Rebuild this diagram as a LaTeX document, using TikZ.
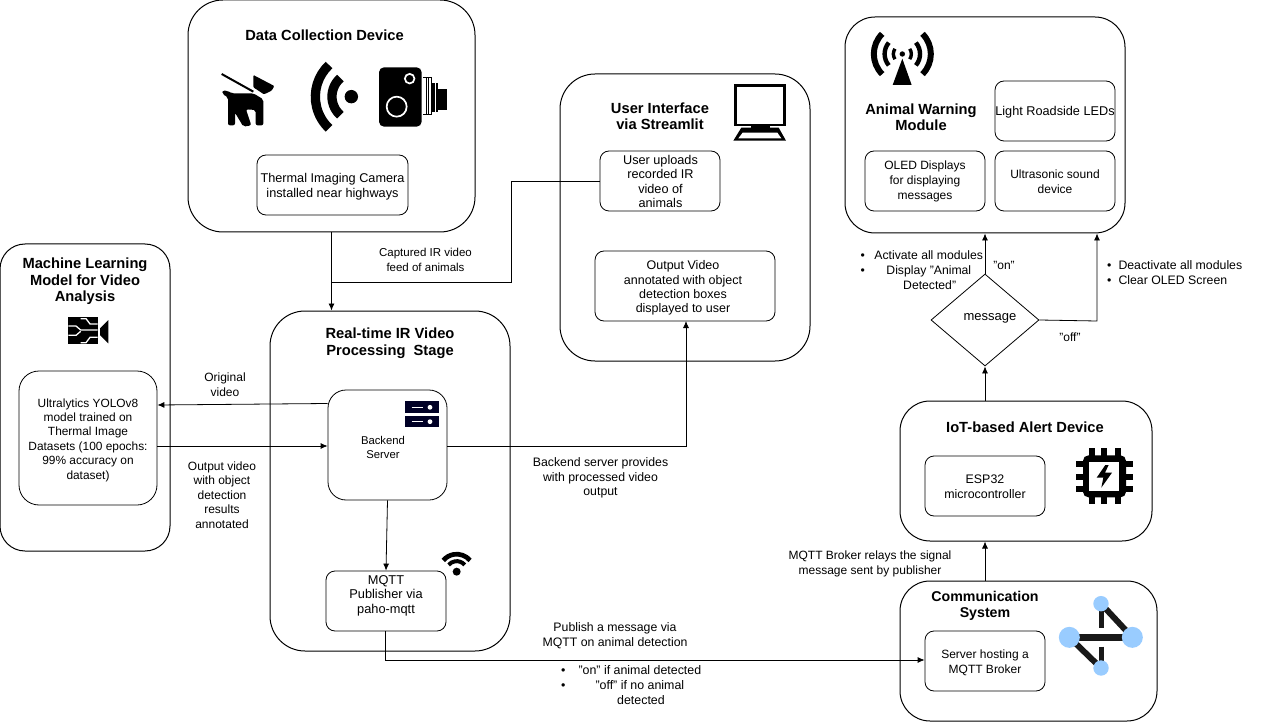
\documentclass[tikz,border=0pt]{standalone}
\usepackage{fontspec}
\setmainfont{Liberation Sans}
\usetikzlibrary{arrows.meta,shapes.geometric,calc}
\definecolor{netblue}{HTML}{99CCFF}
\tikzset{
  fs/.style 2 args={font=\fontsize{#1}{#2}\selectfont},
  txt/.style={fs={12}{15}, align=center, inner sep=0pt, text=black},
  ttl/.style={font=\fontsize{14.7}{16.5}\selectfont\bfseries, align=center, inner sep=0pt},
  panel/.style={draw=black, line width=1pt, fill=white, inner sep=0pt, rounded corners=#1},
  panel/.default=30pt,
  card/.style={draw=black, line width=.8pt, fill=white, inner sep=0pt, rounded corners=9pt},
  wire/.style={draw=black, line width=.8pt},
  arr/.style={wire, -{Latex[length=7pt,width=6pt]}},
  icon/.style={x=.33333pt,y=-.33333pt},
}
\newcommand{\boxat}[6]{% name, x1,y1,x2,y2, style
  \node[#6, minimum width={(#4-#2)*1pt}, minimum height={(#5-#3)*1pt}] (#1) at ({(#2+#4)/2},{(#3+#5)/2}) {};}
\begin{document}
\begin{tikzpicture}[x=1pt,y=-1pt]
\useasboundingbox (0,0) rectangle (1280,722);
\fill[white] (0,0) rectangle (1280,722);

% panels
\boxat{data}{188}{0}{475}{232}{panel=35pt}
\boxat{ui}{560}{74}{810}{361}{panel=35pt}
\boxat{warn}{845}{17}{1125}{233}{panel=30pt}
\boxat{ml}{0}{244}{170}{551}{panel=25pt}
\boxat{rt}{270}{311}{510}{651}{panel=35pt}
\boxat{iot}{900}{401}{1152}{541}{panel=30pt}
\boxat{comm}{900}{581}{1157}{721}{panel=30pt}

% cards
\node[card, minimum width=151pt, minimum height=60pt] (thermal) at (332.5,185) {};
\node[card, minimum width=120pt, minimum height=60pt] (upload) at (660,181) {};
\node[card, minimum width=180pt, minimum height=70pt] (outv) at (685,286) {};
\node[card, minimum width=120pt, minimum height=60pt] (light) at (1055,111) {};
\node[card, minimum width=120pt, minimum height=60pt] (oled) at (925,181) {};
\node[card, minimum width=120pt, minimum height=60pt] (ultra) at (1055,181) {};
\node[card, rounded corners=20pt, minimum width=138pt, minimum height=134pt] (yolo) at (88,438) {};
\node[card, rounded corners=18pt, minimum width=119pt, minimum height=110pt] (backend) at (387.5,445) {};
\node[card, minimum width=120pt, minimum height=60pt] (pub) at (386,601) {};
\node[card, minimum width=120pt, minimum height=60pt] (esp) at (985,486) {};
\node[card, minimum width=120pt, minimum height=60pt] (broker) at (985,661) {};
\node[diamond, draw=black, line width=.8pt, fill=white, minimum width=108pt, minimum height=92pt, inner sep=0pt, aspect=1.174] (msg) at (985,320) {};

% card text
\node[txt,fs={12.7}{15}] (thermalT) at (332.5,187) {Thermal Imaging Camera\\installed near highways};
\node[txt,fs={12.7}{14.4}] (uploadT) at (660.5,181.5) {User uploads\\recorded IR\\video of\\animals};
\node[txt,fs={12.5}{14.4}] (outvT) at (683,288) {Output Video\\annotated with object\\detection boxes\\displayed to user};
\node[txt,fs={12.7}{15}] (lightT) at (1055,112) {Light Roadside LEDs};
\node[txt] (oledT) at (925,181.5) {OLED Displays\\for displaying\\messages};
\node[txt] (ultraT) at (1055,182) {Ultrasonic sound\\device};
\node[txt,fs={11.9}{14.4}] (yoloT) at (88,440) {Ultralytics YOLOv8\\model trained on\\Thermal Image\\Datasets (100 epochs:\\99\% accuracy on\\dataset)};
\node[txt,fs={12.4}{15}] (espT) at (985,487) {ESP32\\microcontroller};
\node[txt] (brokerT) at (985,663) {Server hosting a\\MQTT Broker};
\node[txt,fs={13}{15}] (msgT) at (990,318.5) {message};
\node[txt,fs={11.3}{14.5}] (bt) at (383,447.5) {Backend\\Server};
\node[txt,fs={12.8}{14.6}] (pt) at (386,595.5) {MQTT\\Publisher via\\paho-mqtt};

% titles
\node[ttl] (t1) at (324.5,35) {Data Collection Device};
\node[ttl] (t2) at (660,116) {User Interface\\via Streamlit};
\node[ttl] (t3) at (921,117) {Animal Warning\\Module};
\node[ttl] (t4) at (85,281.5) {Machine Learning\\Model for Video\\Analysis};
\node[ttl] (t5) at (390,343) {Real-time IR Video\\Processing\ \ Stage};
\node[ttl] (t6) at (1025,427) {IoT-based Alert Device};
\node[ttl,font=\fontsize{14.2}{16.5}\selectfont\bfseries] (t7) at (985,606) {Communication\\System};

% connectors
\coordinate (c1) at (511,282);
\draw[arr] (data.south) -- (data.south |- rt.north);
\draw[wire] (upload.west) -| (c1) -- (c1 -| data.south);
\draw[arr] (backend.west |- 0,403.5) -- (yolo.east |- 0,405);
\draw[arr] (yolo.east |- 0,446) -- (backend.west |- 0,446);
\draw[arr] (backend.east |- 0,446) -| (686,321);
\draw[arr] (backend.south) -- (pub.north);
\coordinate (c2) at (385,660);
\draw[arr] (c2 |- pub.south) -- (c2) -- (c2 -| broker.west);
\draw[arr] (comm.north -| broker.north) -- (iot.south -| broker.north);
\draw[arr] (iot.north -| msg.south) -- (msg.south);
\draw[arr] (msg.north) -- (warn.south -| msg.north);
\coordinate (c3) at (1097,321);
\draw[arr] (msg.east) -- (c3) -- (c3 |- warn.south);

% edge labels
\node[txt,fs={11.5}{15}] (l1) at (425.5,260) {Captured IR video\\feed of animals};
\node[txt] (l2) at (225,385) {Original\\video};
\node[txt,fs={12}{14.4}] (l3) at (222,495) {Output video\\with object\\detection\\results\\annotated};
\node[txt,fs={12.3}{14.6}] (l4) at (600.5,478) {Backend server provides\\with processed video\\output};
\node[txt,fs={12.3}{15}] (l5) at (615,636) {Publish a message via\\MQTT on animal detection};
\node[txt] (l6) at (870,564) {MQTT Broker relays the signal\\message sent by publisher};
\node[txt] (l7) at (1004,265) {"on"};
\node[txt] (l8) at (1070,337) {"off"};
\node[txt, anchor=north west, align=left, fs={12.2}{15}] (l9) at (860.5,250.5) {•\hspace{9.5pt}Activate all modules\\•\hspace{21.5pt}Display "Animal\\\hspace{42.5pt}Detected"};
\node[txt, anchor=north west, align=left, fs={12.3}{15.5}] (l10) at (1107,260) {•\hspace{7pt}Deactivate all modules\\•\hspace{7pt}Clear OLED Screen};
\node[txt, anchor=north west, align=left, fs={12.4}{15}] (l11) at (561,665.5) {•\hspace{13pt}"on" if animal detected\\•\hspace{30pt}"off" if no animal\\\hspace{56pt}detected};

% dog, wave, camera
\begin{scope}[shift={(190,50)},icon]
  \draw[line width=2pt] (95,72) -- (190,125);
  \fill[rounded corners=1pt] (190,75) -- (253,108) -- (245,122) -- (222,133) -- (190,112) -- cycle;
  \fill[rounded corners=2pt] (97,122) -- (112,122) -- (125,130) -- (190,130) -- (220,148) -- (220,226) -- (197,226) -- (197,180) -- (168,178) -- (184,226) -- (160,230) -- (135,188) -- (135,226) -- (114,226) -- (114,142) -- (97,132) -- cycle;
  \fill (484,140) circle[radius=6.7pt];
  \draw[line width=9.3pt] (506.6,140) ++(133.3:43.5pt) arc[start angle=133.3,end angle=226.7,radius=43.5pt];
  \draw[line width=9.3pt] (500,140) ++(131.2:24.7pt) arc[start angle=131.2,end angle=228.8,radius=24.7pt];
  \fill[rounded corners=5pt] (567,52) rectangle (695,230);
  \draw[white,line width=1.7pt] (659,86) circle[radius=4.8pt];
  \draw[white,line width=1.7pt] (620,170) circle[radius=10pt];
  \draw[line width=1pt] (700,84) -- (725,84) -- (725,195) -- (700,195);
  \draw[line width=1pt] (708,84) -- (708,195) (716,84) -- (716,195);
  \fill (725,100) rectangle (745,187);
  \draw[white,line width=.8pt] (735,100) -- (735,187);
  \fill (745,117) rectangle (771,180);
\end{scope}

% antenna
\begin{scope}[shift={(850,20)},icon]
  \fill (157,102) circle[radius=2.7pt];
  \fill (157,116) -- (185,195) -- (128,195) -- cycle;
  \draw[line width=3.4pt] (157,102) ++(145:9pt) arc[start angle=145,end angle=215,radius=9pt];
  \draw[line width=3.4pt] (157,102) ++(-35:9pt) arc[start angle=-35,end angle=35,radius=9pt];
  \draw[line width=4.4pt] (157,102) ++(140:17.7pt) arc[start angle=140,end angle=220,radius=17.7pt];
  \draw[line width=4.4pt] (157,102) ++(-40:17.7pt) arc[start angle=-40,end angle=40,radius=17.7pt];
  \draw[line width=6pt] (157,102) ++(135:28.5pt) arc[start angle=135,end angle=225,radius=28.5pt];
  \draw[line width=6pt] (157,102) ++(-45:28.5pt) arc[start angle=-45,end angle=45,radius=28.5pt];
\end{scope}

% monitor
\begin{scope}[shift={(720,75)},icon]
  \draw[line width=2.7pt,fill=white] (46,32) rectangle (193,150);
  \fill (92,150) rectangle (150,170);
  \fill (64,158) -- (176,158) -- (198,197) -- (40,197) -- cycle;
  \fill[white] (68,173) -- (172,173) -- (184,190) -- (55,190) -- cycle;
\end{scope}

% chip
\begin{scope}[shift={(1050,440)},icon]
  \draw[line width=6pt, rounded corners=3pt] (108,55) rectangle (219,163);
  \foreach \p in {125,163,203} {\fill (\p-9,25) rectangle (\p+9,192);}
  \foreach \p in {72,110,148} {\fill (78,\p-9) rectangle (248,\p+9);}
  \fill[white] (118,65) rectangle (208,152);
  \fill (166,75) -- (140,113) -- (160,113) -- (154,143) -- (186,98) -- (165,98) -- (176,75) -- cycle;
\end{scope}

% network
\begin{scope}[shift={(1050,440)},icon]
  \draw[line width=7pt,color=black!90] (58,592) -- (247,592);
  \draw[line width=6pt,color=black!90] (153,491) -- (247,592);
  \draw[line width=6pt,color=black!90] (58,592) -- (153,684);
  \draw[line width=5pt,color=black!90] (153,491) -- (153,563);
  \draw[line width=5pt,color=black!90] (153,620) -- (153,684);
  \fill[netblue] (58,592) circle[radius=10.5pt];
  \fill[netblue] (247,592) circle[radius=10.5pt];
  \fill[netblue] (153,491) circle[radius=7.7pt];
  \fill[netblue] (153,684) circle[radius=7.7pt];
\end{scope}

% server and wifi
\begin{scope}[shift={(390,390)},icon]
  \fill[black!85!blue] (45,33) rectangle (147,68);
  \fill[black!85!blue] (45,78) rectangle (147,110);
  \draw[white,line width=1pt] (65,52) -- (100,52) (65,95) -- (100,95);
  \fill[white] (120,52) circle[radius=2.4pt] (120,95) circle[radius=2.4pt];
  \fill (200,545) circle[radius=4pt];
  \draw[line width=4.7pt] (200,545) ++(40:17.5pt) arc[start angle=40,end angle=140,radius=17.5pt];
  \draw[line width=4pt] (200,545) ++(40:10.5pt) arc[start angle=40,end angle=140,radius=10.5pt];
\end{scope}

% video-analysis icon
\begin{scope}[shift={(50,310)},icon]
  \fill (55,22) rectangle (143,102);
  \fill (150,55) -- (175,30) -- (175,100) -- (150,75) -- cycle;
  \draw[white,line width=1.3pt] (92,26) -- (108,26) -- (120,42) -- (143,42);
  \draw[white,line width=1.3pt] (55,48) -- (78,48) -- (92,60) -- (143,60);
  \draw[white,line width=1.3pt] (55,76) -- (78,76) -- (92,64);
  \draw[white,line width=1.3pt] (92,98) -- (108,98) -- (120,82) -- (143,82);
\end{scope}
\end{tikzpicture}
\end{document}
